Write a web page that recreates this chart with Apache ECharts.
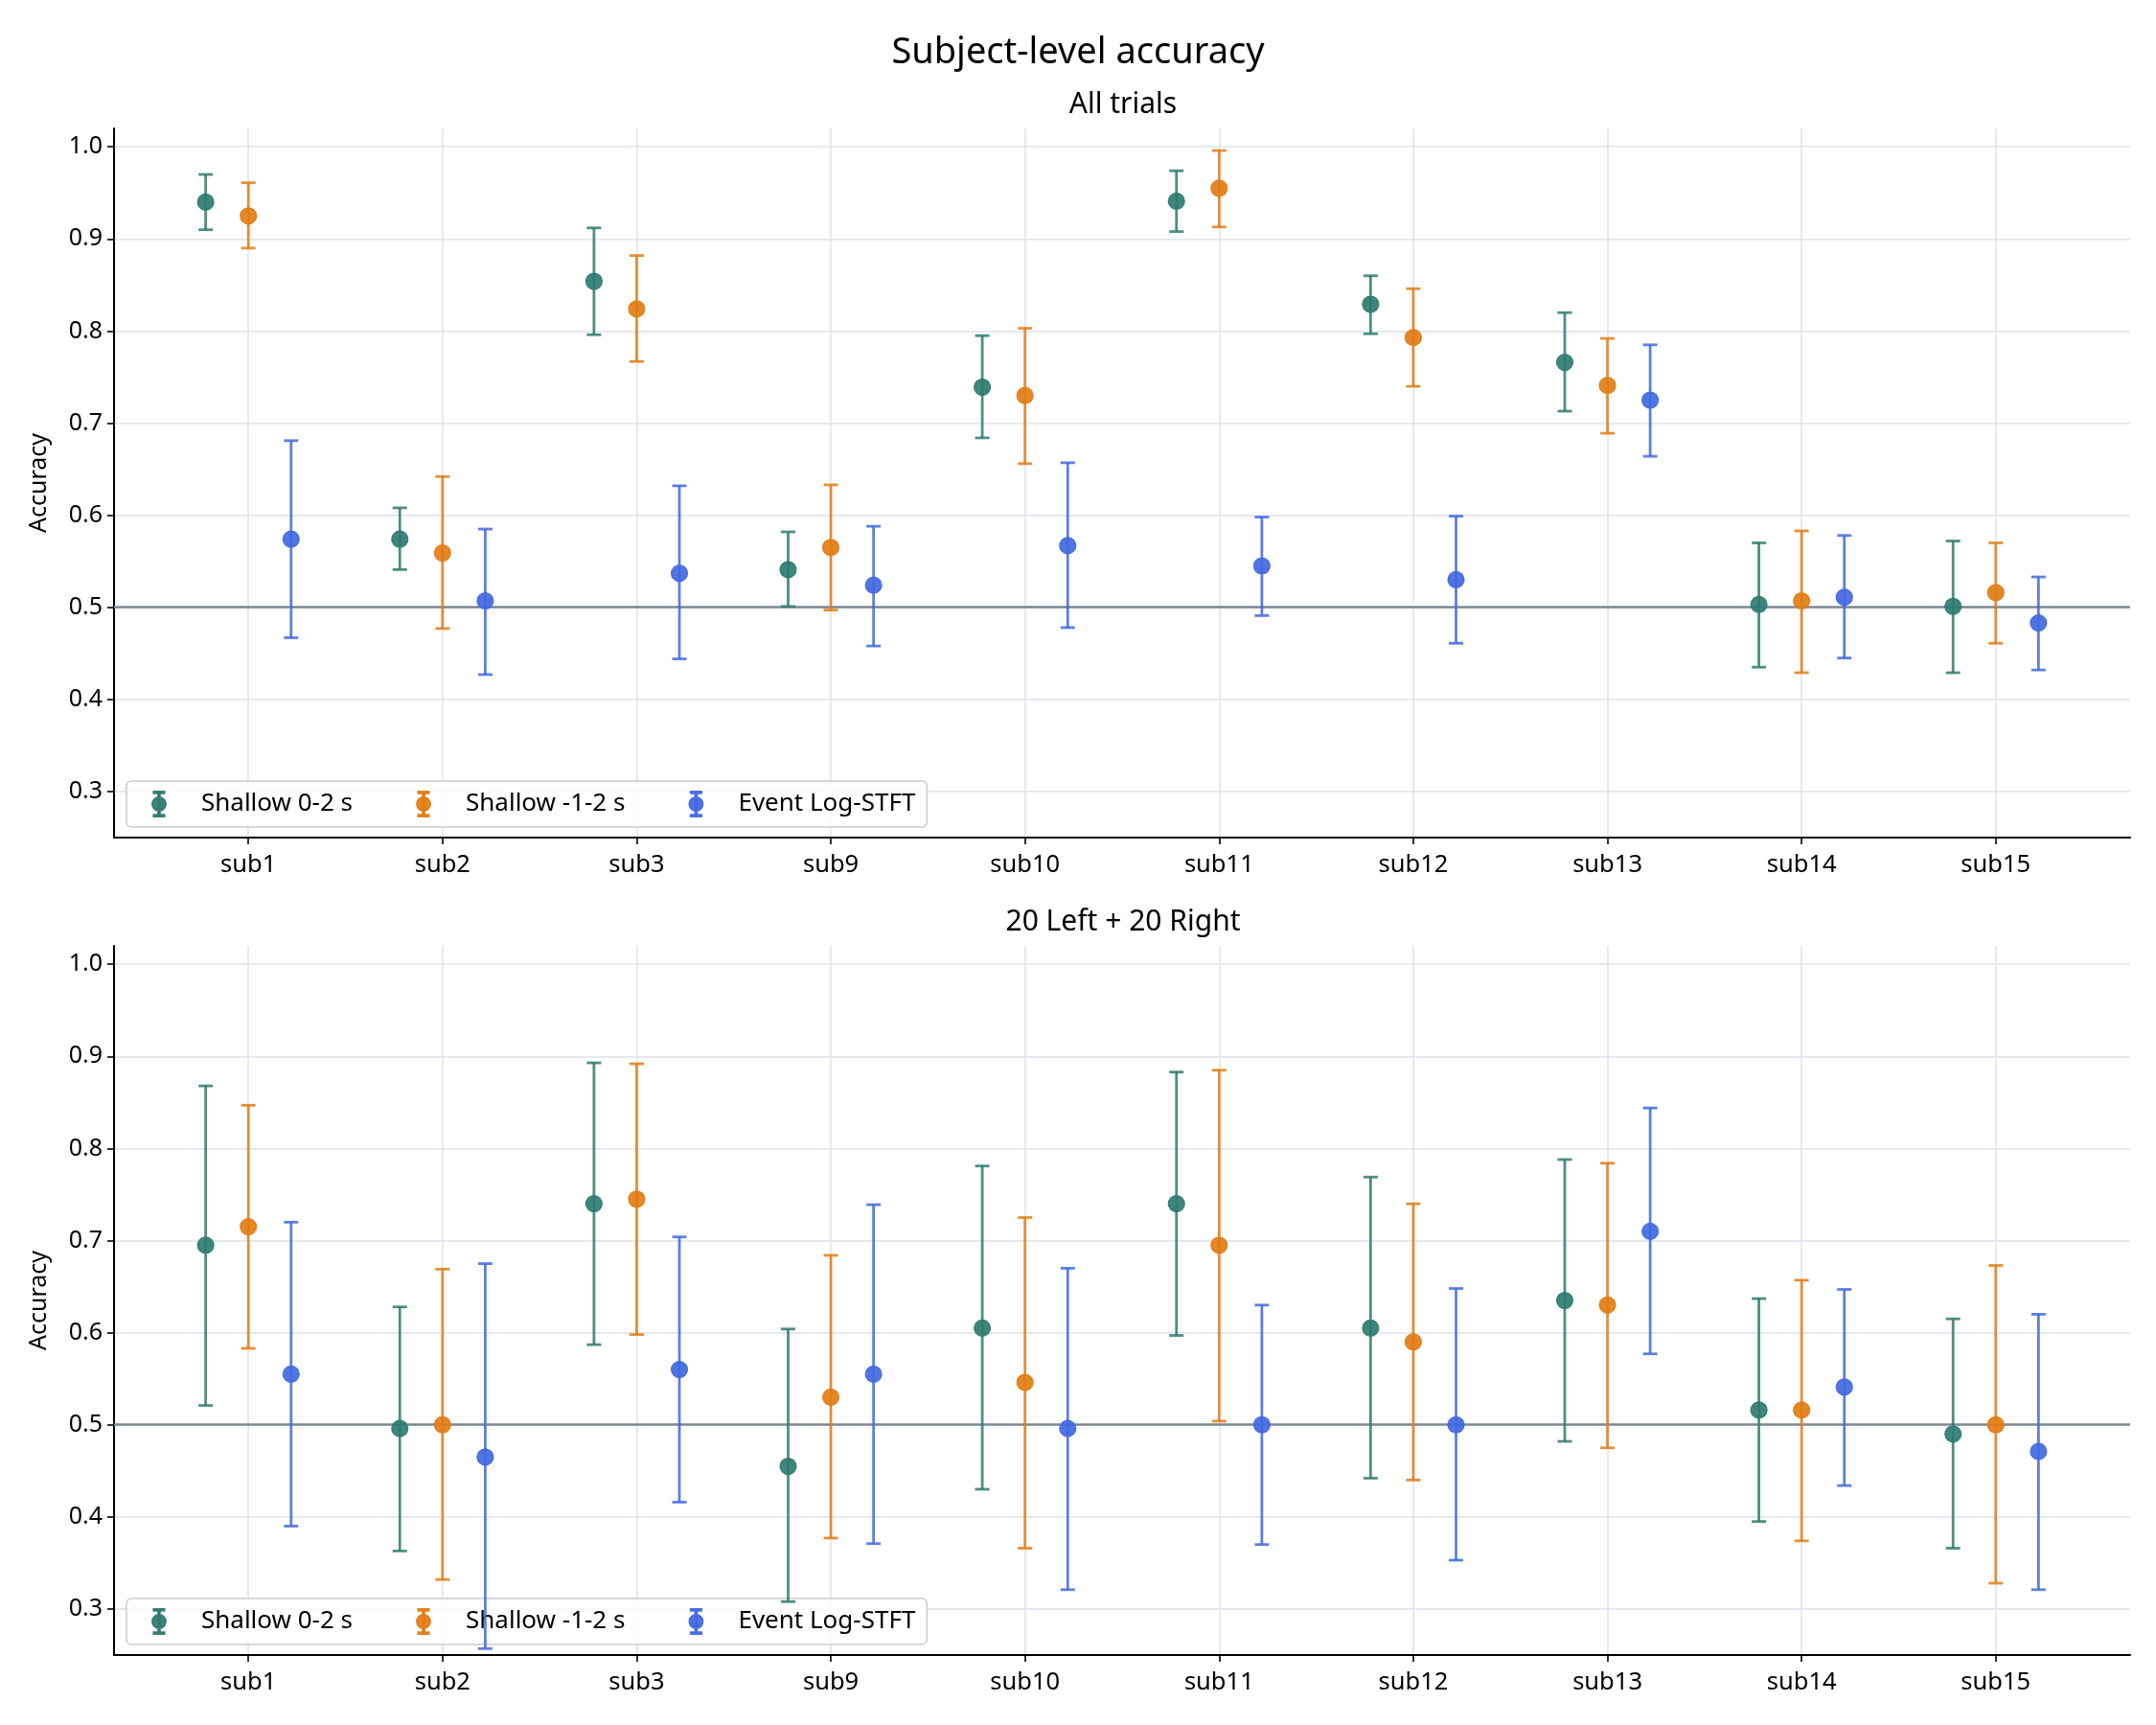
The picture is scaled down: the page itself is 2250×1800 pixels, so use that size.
<!DOCTYPE html>
<html>
<head>
<meta charset="utf-8">
<script src="https://cdn.jsdelivr.net/npm/echarts@6/dist/echarts.min.js"></script>
<style>
html,body{margin:0;padding:0;background:#fff;}
#chart{width:2250px;height:1800px;}
</style>
</head>
<body>
<div id="chart"></div>
<script>
// ---------- DATA ----------
const subjects = ['sub1','sub2','sub3','sub9','sub10','sub11','sub12','sub13','sub14','sub15'];
const seriesNames = ['Shallow 0-2 s', 'Shallow -1-2 s', 'Event Log-STFT'];
const yTicks = [0.3, 0.4, 0.5, 0.6, 0.7, 0.8, 0.9, 1.0];

// Panel 1: All trials
const allShallow02Mean = [0.940, 0.574, 0.854, 0.541, 0.739, 0.941, 0.829, 0.766, 0.503, 0.501];
const allShallow02Lo   = [0.910, 0.541, 0.796, 0.501, 0.684, 0.908, 0.797, 0.713, 0.435, 0.429];
const allShallow02Hi   = [0.970, 0.608, 0.912, 0.582, 0.795, 0.974, 0.860, 0.820, 0.570, 0.572];
const allShallow12Mean = [0.925, 0.559, 0.824, 0.565, 0.730, 0.955, 0.793, 0.741, 0.507, 0.516];
const allShallow12Lo   = [0.890, 0.477, 0.767, 0.497, 0.656, 0.913, 0.740, 0.689, 0.429, 0.461];
const allShallow12Hi   = [0.961, 0.642, 0.882, 0.633, 0.803, 0.996, 0.846, 0.792, 0.583, 0.570];
const allStftMean      = [0.574, 0.507, 0.537, 0.524, 0.567, 0.545, 0.530, 0.725, 0.511, 0.483];
const allStftLo        = [0.467, 0.427, 0.444, 0.458, 0.478, 0.491, 0.461, 0.664, 0.445, 0.432];
const allStftHi        = [0.681, 0.585, 0.632, 0.588, 0.657, 0.598, 0.599, 0.785, 0.578, 0.533];

// Panel 2: 20 Left + 20 Right
const balShallow02Mean = [0.695, 0.496, 0.740, 0.455, 0.605, 0.740, 0.605, 0.635, 0.516, 0.490];
const balShallow02Lo   = [0.521, 0.363, 0.587, 0.308, 0.430, 0.597, 0.442, 0.482, 0.395, 0.366];
const balShallow02Hi   = [0.868, 0.628, 0.893, 0.604, 0.781, 0.883, 0.769, 0.788, 0.637, 0.615];
const balShallow12Mean = [0.715, 0.500, 0.745, 0.530, 0.546, 0.695, 0.590, 0.630, 0.516, 0.500];
const balShallow12Lo   = [0.583, 0.332, 0.598, 0.377, 0.366, 0.504, 0.440, 0.475, 0.374, 0.328];
const balShallow12Hi   = [0.847, 0.669, 0.892, 0.684, 0.725, 0.885, 0.740, 0.784, 0.657, 0.673];
const balStftMean      = [0.555, 0.465, 0.560, 0.555, 0.496, 0.500, 0.500, 0.710, 0.541, 0.471];
const balStftLo        = [0.390, 0.257, 0.416, 0.371, 0.321, 0.370, 0.353, 0.577, 0.434, 0.321];
const balStftHi        = [0.720, 0.675, 0.704, 0.739, 0.670, 0.630, 0.648, 0.844, 0.647, 0.620];

const chanceLevel = 0.5;

// ---------- STYLE ----------
const colors = ['#2E7B70', '#E27D14', '#4169E1'];
const offsets = [-0.22, 0, 0.22];
const FONT = 'Noto Sans';
const panels = [
  { title: 'All trials', top: 134, means: [allShallow02Mean, allShallow12Mean, allStftMean],
    los: [allShallow02Lo, allShallow12Lo, allStftLo], his: [allShallow02Hi, allShallow12Hi, allStftHi], legendTop: 815 },
  { title: '20 Left + 20 Right', top: 987, means: [balShallow02Mean, balShallow12Mean, balStftMean],
    los: [balShallow02Lo, balShallow12Lo, balStftLo], his: [balShallow02Hi, balShallow12Hi, balStftHi], legendTop: 1668 }
];
const gridH = 740;

const legendIcon = 'path://M14 1H16V29H14Z M9 1H21V3H9Z M9 27H21V29H9Z M7.5 15A7.5 7.5 0 1 1 22.5 15A7.5 7.5 0 1 1 7.5 15Z';

const chart = echarts.init(document.getElementById('chart'), null, {renderer: 'canvas'});

const grids = [], xAxes = [], yAxes = [], series = [], legends = [];
const titles = [{
  text: 'Subject-level accuracy', left: 'center', top: 31,
  textStyle: {fontFamily: FONT, fontSize: 38, fontWeight: 'normal', color: '#000'}
}];

panels.forEach((p, pi) => {
  grids.push({left: 119, right: 27, top: p.top, height: gridH, containLabel: false});
  titles.push({
    text: p.title, left: 1167, textAlign: 'center', top: p.top - 45,
    textStyle: {fontFamily: FONT, fontSize: 30, fontWeight: 'normal', color: '#000'}
  });
  xAxes.push({
    type: 'value', gridIndex: pi, min: -0.692, max: 9.692,
    axisLine: {show: true, onZero: false, lineStyle: {color: '#000', width: 2}},
    axisTick: {show: true, length: 7, lineStyle: {color: '#000', width: 1.6}, customValues: subjects.map((s, i) => i)},
    axisLabel: {show: true, customValues: subjects.map((s, i) => i), formatter: v => subjects[Math.round(v)],
      fontFamily: FONT, fontSize: 25.5, color: '#000', margin: 16},
    splitLine: {show: true, lineStyle: {color: '#DDE3EB', width: 1.5}}
  });
  yAxes.push({
    type: 'value', gridIndex: pi, min: 0.25, max: 1.02,
    name: 'Accuracy', nameLocation: 'middle', nameGap: 66, nameRotate: 90,
    nameTextStyle: {fontFamily: FONT, fontSize: 25, color: '#000'},
    axisLine: {show: true, onZero: false, lineStyle: {color: '#000', width: 2}},
    axisTick: {show: true, length: 7, lineStyle: {color: '#000', width: 1.6}, customValues: yTicks},
    axisLabel: {show: true, customValues: yTicks, formatter: v => v.toFixed(1),
      fontFamily: FONT, fontSize: 25, color: '#000', margin: 12},
    splitLine: {show: true, lineStyle: {color: '#DDE3EB', width: 1.5}}
  });
  legends.push({
    left: 132, top: p.legendTop, orient: 'horizontal',
    data: seriesNames.map(n => ({name: n, icon: legendIcon})),
    itemWidth: 26, itemHeight: 26, itemGap: 66,
    padding: [10, 12, 10, 26],
    textStyle: {fontFamily: FONT, fontSize: 26, color: '#000', padding: [0, 0, 0, 26]},
    backgroundColor: 'rgba(255,255,255,0.8)', borderColor: '#CCCCCC', borderWidth: 1.5, borderRadius: 5,
    selectedMode: false
  });

  seriesNames.forEach((name, si) => {
    const col = colors[si];
    const barData = p.means[si].map((m, i) => [i + offsets[si], p.los[si][i], p.his[si][i]]);
    const ptData = p.means[si].map((m, i) => [i + offsets[si], m]);
    series.push({
      type: 'scatter', name: name, xAxisIndex: pi, yAxisIndex: pi,
      data: ptData, symbol: 'circle', symbolSize: 17, z: 5,
      itemStyle: {color: col, opacity: 0.92, borderColor: col, borderWidth: 1.2},
      emphasis: {disabled: true},
      markLine: si === 0 ? {
        silent: true, symbol: ['none', 'none'], label: {show: false},
        lineStyle: {color: '#7D8893', width: 2.5, type: 'solid'},
        data: [{yAxis: chanceLevel}], z: 1
      } : undefined
    });
    series.push({
      type: 'custom', name: name, xAxisIndex: pi, yAxisIndex: pi, z: 4,
      data: barData,
      encode: {x: 0, y: [1, 2]},
      renderItem: (params, api) => {
        const x = api.value(0), lo = api.value(1), hi = api.value(2);
        const a = api.coord([x, lo]), b = api.coord([x, hi]);
        const hw = 7.5;
        const st = {stroke: col, lineWidth: 2.8, opacity: 0.85};
        return {type: 'group', children: [
          {type: 'line', shape: {x1: a[0], y1: a[1], x2: b[0], y2: b[1]}, style: st},
          {type: 'line', shape: {x1: a[0] - hw, y1: a[1], x2: a[0] + hw, y2: a[1]}, style: st},
          {type: 'line', shape: {x1: b[0] - hw, y1: b[1], x2: b[0] + hw, y2: b[1]}, style: st}
        ]};
      }
    });
  });
});

chart.setOption({
  animation: false,
  backgroundColor: '#fff',
  title: titles,
  grid: grids,
  xAxis: xAxes,
  yAxis: yAxes,
  legend: legends,
  series: series
});
</script>
</body>
</html>
